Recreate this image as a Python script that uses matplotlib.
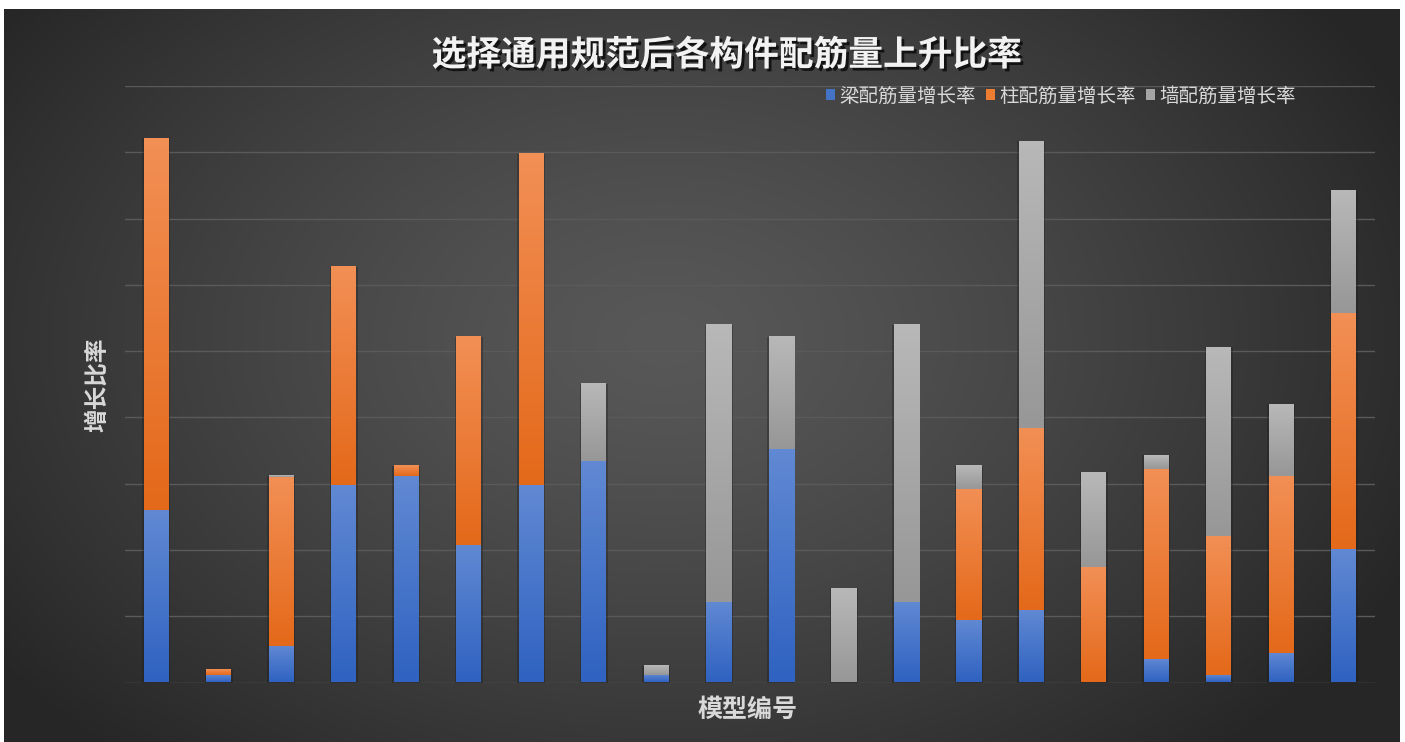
import matplotlib
matplotlib.use('Agg')
import matplotlib.pyplot as plt
import matplotlib.patheffects as pe
from matplotlib.colors import LinearSegmentedColormap
from matplotlib.patches import Patch
import numpy as np

plt.rcParams['font.family'] = ['Noto Sans CJK SC', 'DejaVu Sans']

models = [str(i) for i in range(1, 21)]
beam = [2.61, 0.11, 0.55, 2.98, 3.11, 2.08, 2.98, 3.34, 0.11, 1.21,
        3.52, 0.01, 1.21, 0.94, 1.09, 0.01, 0.36, 0.11, 0.44, 2.01]
column = [5.61, 0.08, 2.55, 3.29, 0.16, 3.14, 5.00, 0.0, 0.0, 0.0,
          0.0, 0.0, 0.0, 1.98, 2.75, 1.73, 2.86, 2.10, 2.68, 3.56]
wall = [0.0, 0.0, 0.02, 0.0, 0.0, 0.0, 0.0, 1.17, 0.14, 4.18,
        1.69, 1.41, 4.18, 0.35, 4.33, 1.43, 0.21, 2.85, 1.08, 1.85]
series_names = ['梁配筋量增长率', '柱配筋量增长率', '墙配筋量增长率']

# (top colour, bottom colour) of each segment's vertical gradient
seg_colors = [('#6189d3', '#2f62c1'),
              ('#f28f55', '#e4691a'),
              ('#b8b8b8', '#979797')]
legend_colors = ['#4472c4', '#ed7d31', '#a5a5a5']

W, H = 1405, 742
fig = plt.figure(figsize=(W / 100, H / 100), dpi=100, facecolor='white')

# dark radial backdrop
bg = fig.add_axes([4 / W, 0, 1396 / W, 733 / H])
bg.set_axis_off()
yy, xx = np.mgrid[0:733, 0:1396]
r = np.sqrt(((xx - 660) / 820.0) ** 2 + ((yy - 330) / 560.0) ** 2)
r = np.clip(r, 0, 1)
shade = 0.345 - (0.345 - 0.150) * r ** 1.3
bg.imshow(np.dstack([shade] * 3), aspect='auto', extent=[0, 1, 0, 1])
bg.set_xlim(0, 1)
bg.set_ylim(0, 1)

ax = fig.add_axes([125 / W, 1 - 682.5 / H, 1250 / W, 596.5 / H])
ax.patch.set_alpha(0)
x = np.arange(len(models))
width = 0.4

bottom = np.zeros(len(models))
for vals, (c_top, c_bot), name in zip([beam, column, wall], seg_colors, series_names):
    bars = ax.bar(x, vals, width, bottom=bottom, color='none', label=name, zorder=3)
    cmap = LinearSegmentedColormap.from_list(name, [c_bot, c_top])
    for rect in bars:
        if rect.get_height() <= 0:
            continue
        x0, y0 = rect.get_x(), rect.get_y()
        x1, y1 = x0 + rect.get_width(), y0 + rect.get_height()
        # subtle shadow around each bar
        ax.bar(x0 + rect.get_width() / 2, rect.get_height(), rect.get_width() * 1.12,
               bottom=y0, color='#1a1a1a', alpha=0.35, zorder=2, linewidth=0)
        ax.imshow(np.linspace(0, 1, 64).reshape(-1, 1), cmap=cmap, origin='lower',
                  extent=[x0, x1, y0, y1], aspect='auto', zorder=3)
    bottom += np.array(vals)

ax.set_xlim(-0.5, len(models) - 0.5)
ax.set_ylim(0, 9)
ax.set_yticks(np.arange(0, 10, 1))
ax.yaxis.grid(True, color='#5a5a5a', linewidth=1.0, zorder=1)
ax.set_axisbelow(True)
ax.tick_params(left=False, bottom=False, labelleft=False, labelbottom=False)
for s in ax.spines.values():
    s.set_visible(False)

fig.text(727 / W, 1 - 55 / H, '选择通用规范后各构件配筋量上升比率', ha='center', va='center',
         fontsize=25, fontweight='bold', color='#f2f2f2',
         path_effects=[pe.withSimplePatchShadow(offset=(2, -2), shadow_rgbFace='black', alpha=0.7)])
fig.text(97 / W, 1 - 385 / H, '增长比率', ha='center', va='center', rotation=90,
         fontsize=17, fontweight='bold', color='#d9d9d9')
fig.text(748 / W, 1 - 710 / H, '模型编号', ha='center', va='center',
         fontsize=18, fontweight='bold', color='#d9d9d9')

handles = [Patch(facecolor=c, edgecolor='none') for c in legend_colors]
fig.legend(handles, series_names, loc='center', bbox_to_anchor=(1061 / W, 1 - 96 / H),
           ncol=3, frameon=False, fontsize=14, labelcolor='#d9d9d9',
           handlelength=0.45, handleheight=0.45, handletextpad=0.25, columnspacing=0.5)

fig.savefig('out.png', dpi=100)
